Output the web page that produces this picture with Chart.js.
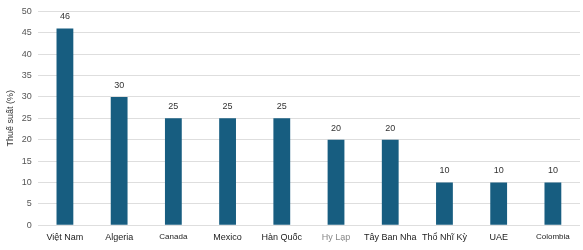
<!DOCTYPE html>
<html>
<head>
<meta charset="utf-8">
<script src="https://cdn.jsdelivr.net/npm/chart.js@4/dist/chart.umd.min.js"></script>
<style>
  html, body { margin: 0; padding: 0; background: #fff; }
  #wrap { width: 583px; height: 250px; }
</style>
</head>
<body>
<div id="wrap"><canvas id="taxChart"></canvas></div>
<script>
var countries = ['Việt Nam', 'Algeria', 'Canada', 'Mexico', 'Hàn Quốc', 'Hy Lạp', 'Tây Ban Nha', 'Thổ Nhĩ Kỳ', 'UAE', 'Colombia'];
var taxRates = [46, 30, 25, 25, 25, 20, 20, 10, 10, 10];
var yTicks = [0, 5, 10, 15, 20, 25, 30, 35, 40, 45, 50];

// draw the value over each bar
var valueLabels = {
  id: 'valueLabels',
  afterDatasetsDraw: function (chart) {
    var ctx = chart.ctx;
    var meta = chart.getDatasetMeta(0);
    ctx.save();
    ctx.font = '9px "Liberation Sans", Arial, sans-serif';
    ctx.fillStyle = '#333';
    ctx.textAlign = 'center';
    ctx.textBaseline = 'bottom';
    meta.data.forEach(function (bar, i) {
      ctx.fillText(taxRates[i], bar.x, bar.y - 7);
    });
    ctx.restore();
  }
};

new Chart(document.getElementById('taxChart'), {
  type: 'bar',
  data: {
    labels: countries,
    datasets: [{
      label: 'Thuế suất (%)',
      data: taxRates,
      backgroundColor: '#175d80',
      categoryPercentage: 1,
      barPercentage: 0.31
    }]
  },
  options: {
    responsive: true,
    maintainAspectRatio: false,
    animation: false,
    layout: { padding: { top: 5, right: 3, left: 5, bottom: 8 } },
    plugins: {
      legend: { display: false },
      tooltip: { enabled: false }
    },
    scales: {
      x: {
        grid: { display: false },
        border: { display: false },
        ticks: {
          padding: -1,
          maxRotation: 0,
          autoSkip: false,
          color: function (c) { return c.index === 5 ? '#888' : '#222'; },
          font: function (c) {
            var small = c.index === 2 || c.index === 9;
            return { family: '"Liberation Sans", Arial, sans-serif', size: small ? 8 : 9 };
          }
        }
      },
      y: {
        min: 0,
        max: 50,
        afterBuildTicks: function (axis) {
          axis.ticks = yTicks.map(function (v) { return { value: v }; });
        },
        grid: { color: '#dedede', drawTicks: false },
        border: { display: false },
        ticks: {
          padding: 6,
          color: '#555',
          font: { family: '"Liberation Sans", Arial, sans-serif', size: 9 }
        },
        title: {
          display: true,
          text: 'Thuế suất (%)',
          color: '#333',
          padding: { top: 0, bottom: 0 },
          font: { family: '"Liberation Sans", Arial, sans-serif', size: 9 }
        }
      }
    }
  },
  plugins: [valueLabels]
});
</script>
</body>
</html>
